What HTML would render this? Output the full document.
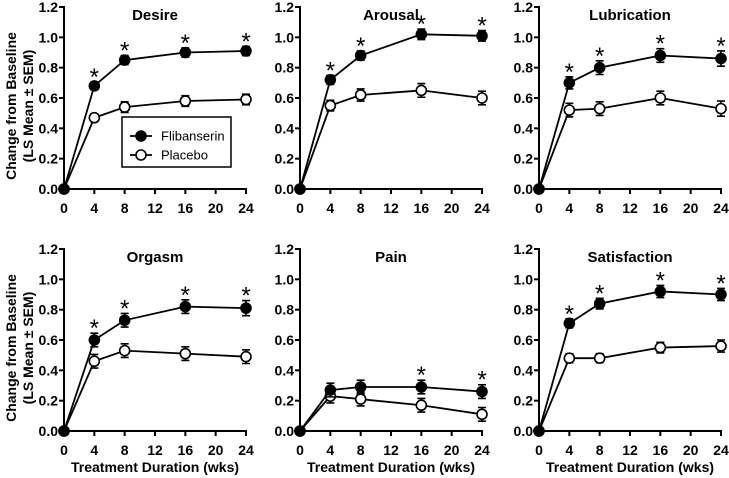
<!DOCTYPE html>
<html><head><meta charset="utf-8"><style>
html,body{margin:0;padding:0;background:#fff;}
svg{display:block;font-family:"Liberation Sans",Arial,sans-serif;}
</style></head><body>
<svg id="chart" width="729" height="478" viewBox="0 0 729 478" xmlns="http://www.w3.org/2000/svg"></svg>
<script>
const weeks = [0,4,8,16,24];
const xTicks = [0,4,8,12,16,20,24];
const yTicks = [0,0.2,0.4,0.6,0.8,1.0,1.2];
const titles = ["Desire","Arousal","Lubrication","Orgasm","Pain","Satisfaction"];
const flibanserin = [
 [0,0.68,0.85,0.90,0.91],
 [0,0.72,0.88,1.02,1.01],
 [0,0.70,0.80,0.88,0.86],
 [0,0.60,0.73,0.82,0.81],
 [0,0.27,0.29,0.29,0.26],
 [0,0.71,0.84,0.92,0.90]];
const placebo = [
 [0,0.47,0.54,0.58,0.59],
 [0,0.55,0.62,0.65,0.60],
 [0,0.52,0.53,0.60,0.53],
 [0,0.46,0.53,0.51,0.49],
 [0,0.23,0.21,0.17,0.11],
 [0,0.48,0.48,0.55,0.56]];
const semF = [
 [0,0.025,0.03,0.03,0.03],[0,0.03,0.03,0.035,0.035],[0,0.04,0.045,0.045,0.05],
 [0,0.045,0.045,0.045,0.05],[0,0.045,0.045,0.045,0.045],[0,0.03,0.035,0.04,0.04]];
const semP = [
 [0,0.025,0.035,0.035,0.035],[0,0.035,0.04,0.045,0.045],[0,0.045,0.045,0.045,0.05],
 [0,0.045,0.045,0.045,0.045],[0,0.045,0.045,0.045,0.045],[0,0.03,0.03,0.035,0.04]];
const stars = [
 [0,1,1,1,1],[0,1,1,1,1],[0,1,1,1,1],[0,1,1,1,1],[0,0,0,1,1],[0,1,1,1,1]];

const NS="http://www.w3.org/2000/svg";
const svg=document.getElementById('chart');
function mk(tag,attrs,parent,text){const e=document.createElementNS(NS,tag);for(const k in attrs)e.setAttribute(k,attrs[k]);if(text!==undefined)e.textContent=text;(parent||svg).appendChild(e);return e;}
const originsX=[64,300,539], originsY=[189,431];
const W=182,H=182;
for(let p=0;p<6;p++){
  const ox=originsX[p%3], oy=originsY[Math.floor(p/3)];
  const xs=v=>ox+v/24*W, ys=v=>oy-v/1.2*H;
  const g=mk('g',{});
  
  
  const t=mk('text',{x:ox+W/2,y:oy-H+13,'text-anchor':'middle','font-size':'15','font-weight':'bold'},g,titles[p]);
  
  
  const ax=mk('g',{stroke:'#000','stroke-width':'2'},g);
  
  
  mk('line',{x1:ox,y1:oy+1,x2:ox,y2:oy-H-1},ax);
  mk('line',{x1:ox-1,y1:oy,x2:ox+W+1,y2:oy},ax);
  yTicks.forEach(v=>{mk('line',{x1:ox-5,y1:ys(v),x2:ox,y2:ys(v)},ax);
    const l=mk('text',{x:ox-6,y:ys(v)+5,'text-anchor':'end','font-size':'14','font-weight':'bold'},g,v.toFixed(1));
    
    });
  xTicks.forEach(v=>{mk('line',{x1:xs(v),y1:oy,x2:xs(v),y2:oy+5},ax);
    const l=mk('text',{x:xs(v),y:oy+24,'text-anchor':'middle','font-size':'14','font-weight':'bold'},g,String(v));
    
    });
  [[placebo[p],semP[p],'#fff','placebo'],[flibanserin[p],semF[p],'#000','flibanserin']].forEach(([vals,sem,fill,nm])=>{
    const s=mk('g',{},g);
    
    
    mk('polyline',{points:vals.map((v,i)=>xs(weeks[i])+','+ys(v)).join(' '),fill:'none',stroke:'#000','stroke-width':'1.8'},s);
    vals.forEach((v,i)=>{
      if(sem[i]>0){const x=xs(weeks[i]),a=ys(v+sem[i]),b=ys(v-sem[i]);
        mk('path',{d:`M${x},${a}V${b}M${x-4},${a}H${x+4}M${x-4},${b}H${x+4}`,stroke:'#000','stroke-width':'1.6',fill:'none'},s);}
      const c=mk('circle',{cx:xs(weeks[i]),cy:ys(v),r:5,fill:fill,stroke:'#000','stroke-width':'1.6'},s);
      
      
    });
  });
  stars[p].forEach((s,i)=>{if(s){
    const st=mk('text',{x:xs(weeks[i]),y:ys(flibanserin[p][i]+semF[p][i])+3,'text-anchor':'middle','font-size':'24'},g,'*');
    
    }});
  if(p%3===0){
    const yt=mk('text',{transform:`translate(21,${oy-H/2+8}) rotate(-90)`,'text-anchor':'middle','font-size':'14','font-weight':'bold'},g);
    
    
    mk('tspan',{x:0,y:-5},yt,'Change from Baseline');
    mk('tspan',{x:0,y:12},yt,'(LS Mean ± SEM)');
  }
  if(p>=3){
    const xt=mk('text',{x:ox+W/2,y:oy+41,'text-anchor':'middle','font-size':'14','font-weight':'bold'},g,'Treatment Duration (wks)');
    
    
  }
}
const lg=mk('g',{});


mk('rect',{x:122,y:117,width:109,height:50,fill:'#fff',stroke:'#000','stroke-width':'1.5'},lg);
[['Flibanserin','#000',136],['Placebo','#fff',155]].forEach(([n,f,y])=>{
  const e=mk('g',{},lg);
  
  
  mk('line',{x1:130,y1:y,x2:152,y2:y,stroke:'#000','stroke-width':'1.8'},e);
  mk('circle',{cx:141,cy:y,r:5,fill:f,stroke:'#000','stroke-width':'1.6'},e);
  mk('text',{x:161,y:y+4.5,'font-size':'13'},e,n);
});
</script>
</body></html>
